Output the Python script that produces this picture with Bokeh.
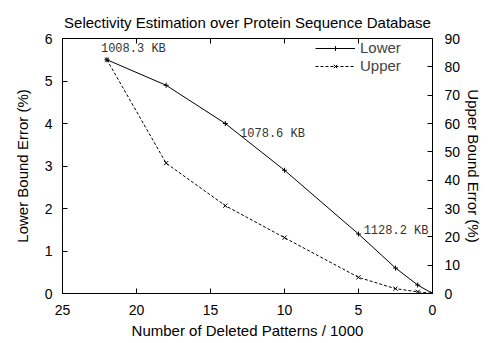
from bokeh.plotting import figure
from bokeh.models import (Range1d, LinearAxis, FixedTicker, Legend, LegendItem,
                          LabelSet, ColumnDataSource)
from bokeh.core.properties import value
from bokeh.embed import file_html
from bokeh.resources import INLINE

# ---- data ----
deleted = [22, 18, 14, 10, 5, 2.5, 1, 0]
lower_err = [5.5, 4.9, 4.0, 2.9, 1.4, 0.6, 0.2, 0.0]
upper_err = [82.5, 46, 31, 19.7, 5.7, 1.7, 0.6, 0.0]

x_ticks = [0, 5, 10, 15, 20, 25]
left_ticks = [0, 1, 2, 3, 4, 5, 6]
right_ticks = [0, 10, 20, 30, 40, 50, 60, 70, 80, 90]

ann_text = ["1008.3 KB", "1078.6 KB", "1128.2 KB"]
ann_x = [22.4, 13.0, 4.65]
ann_y = [5.76, 3.75, 1.47]

FONT = "Liberation Sans"

p = figure(frame_width=370, frame_height=255, x_range=Range1d(25, 0), y_range=Range1d(0, 6),
           output_backend="svg", toolbar_location=None,
           min_border_left=62, min_border_right=59, min_border_top=38, min_border_bottom=50,
           title="Selectivity Estimation over Protein Sequence Database")
p.extra_y_ranges = {"upper": Range1d(0, 90)}

p.title.align = "center"
p.title.text_font = FONT
p.title.text_font_size = "15px"
p.title.text_font_style = "normal"
p.title.text_color = "black"
p.title.offset = 0
p.title.standoff = 16

p.xgrid.visible = False
p.ygrid.visible = False
p.outline_line_color = "black"
p.outline_line_width = 1
p.background_fill_color = "white"
p.border_fill_color = "white"


def style_axis(ax):
    ax.major_tick_in = 5
    ax.major_tick_out = 0
    ax.minor_tick_line_color = None
    ax.axis_line_color = "black"
    ax.major_tick_line_color = "black"
    ax.major_label_text_font = FONT
    ax.major_label_text_font_size = "14px"
    ax.major_label_text_color = "black"
    ax.axis_label_text_font = FONT
    ax.axis_label_text_font_size = "15px"
    ax.axis_label_text_font_style = "normal"
    ax.axis_label_text_color = "black"


xa = p.xaxis[0]
xa.ticker = FixedTicker(ticks=x_ticks)
xa.axis_label = "Number of Deleted Patterns / 1000"
style_axis(xa)
xa.major_label_standoff = 11
xa.axis_label_standoff = 4

ya = p.yaxis[0]
ya.ticker = FixedTicker(ticks=left_ticks)
ya.axis_label = "Lower Bound Error (%)"
style_axis(ya)
ya.major_label_standoff = 10
ya.axis_label_standoff = 11

ra = LinearAxis(y_range_name="upper", ticker=FixedTicker(ticks=right_ticks),
                axis_label="Upper Bound Error (%)")
style_axis(ra)
ra.major_label_standoff = 12
ra.axis_label_standoff = 2
p.add_layout(ra, "right")

ta = LinearAxis(ticker=FixedTicker(ticks=x_ticks))
style_axis(ta)
ta.major_label_overrides = {t: "" for t in x_ticks}
ta.major_label_text_font_size = "1px"
ta.major_label_standoff = 0
p.add_layout(ta, "above")

src = ColumnDataSource(dict(x=deleted, lo=lower_err, up=upper_err))

l1 = p.line("x", "lo", source=src, line_color="black", line_width=1)
s1 = p.scatter("x", "lo", source=src, marker="cross", size=5, line_color="black", line_width=1)
l2 = p.line("x", "up", source=src, y_range_name="upper", line_color="black",
            line_width=1, line_dash="3 2")
s2 = p.scatter("x", "up", source=src, y_range_name="upper", marker="x", size=6,
               line_color="black", line_width=1)

asrc = ColumnDataSource(dict(x=ann_x, y=ann_y, t=ann_text))
labels = LabelSet(x="x", y="y", text="t", source=asrc, text_font=value("Liberation Mono"),
                  text_font_size=value("12px"), text_color="#333333", text_baseline="middle",
                  text_align="left")
p.add_layout(labels)

legend = Legend(items=[LegendItem(label="Lower", renderers=[l1, s1]),
                       LegendItem(label="Upper", renderers=[l2, s2])],
                location=(253, 219))
legend.border_line_color = None
legend.background_fill_alpha = 0
legend.label_text_font = FONT
legend.label_text_font_size = "15px"
legend.glyph_width = 40
legend.glyph_height = 12
legend.label_height = 12
legend.spacing = 1
legend.padding = 4
legend.margin = 0
p.add_layout(legend)

open("out.html", "w").write(file_html(p, INLINE))
